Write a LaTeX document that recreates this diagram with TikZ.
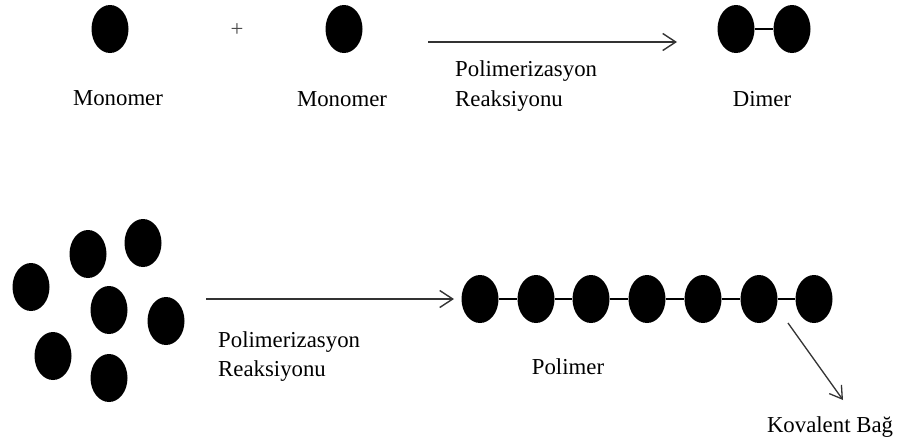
\documentclass[tikz,border=0pt]{standalone}
\usepackage{fontspec}
\setmainfont{Liberation Serif}
\usetikzlibrary{shapes.geometric,arrows.meta}
\begin{document}
\begin{tikzpicture}[x=1pt,y=-1pt,
  ball/.style={ellipse,fill=black,draw=none,minimum width=37pt,minimum height=48pt,inner sep=0pt},
  lbl/.style={font=\fontsize{22.8}{27}\selectfont,inner sep=0pt},
  rxn/.style={draw=black!80,line width=1.4pt,-{Straight Barb[length=13pt,width=17pt,line width=1.4pt]}},
  bond/.style={draw=black,line width=1.2pt}]
\useasboundingbox (0,0) rectangle (905,442);
% top row
\node[ball] (m1) at (110,29) {};
\node[lbl,text=black!70] (plus) at (237,30) {+};
\node[ball] (m2) at (344,29) {};
\node[lbl,anchor=base] (lm1) at (118,105) {Monomer};
\node[lbl,anchor=base] (lm2) at (342,106) {Monomer};
\coordinate (a1s) at (428,42);
\coordinate (a1e) at (677,42);
\draw[rxn] (a1s) -- (a1e);
\node[lbl,anchor=base west] (p1a) at (455,76) {Polimerizasyon};
\node[lbl,anchor=base west] (p1b) at (455,106) {Reaksiyonu};
\node[ball] (d1) at (736,29) {};
\node[ball] (d2) at (792,29) {};
\draw[bond] (d1) -- (d2);
\node[lbl,anchor=base] (ldim) at (762,106) {Dimer};
% bottom cluster
\node[ball] (c1) at (31,287) {};
\node[ball] (c2) at (88,254) {};
\node[ball] (c3) at (143,243) {};
\node[ball] (c4) at (109,310) {};
\node[ball] (c5) at (166,321) {};
\node[ball] (c6) at (53,356) {};
\node[ball] (c7) at (109,378) {};
\coordinate (a2s) at (206,299);
\coordinate (a2e) at (454,299);
\draw[rxn] (a2s) -- (a2e);
\node[lbl,anchor=base west] (p2a) at (218,347) {Polimerizasyon};
\node[lbl,anchor=base west] (p2b) at (218,376) {Reaksiyonu};
% polymer chain
\foreach \i/\x in {1/480,2/536,3/591,4/647,5/703,6/759,7/814}{
  \node[ball] (p\i) at (\x,299) {};
}
\foreach \i [count=\j from 2] in {1,...,6}{
  \draw[bond] (p\i) -- (p\j);
}
\node[lbl,anchor=base] (lpol) at (568,374) {Polimer};
\coordinate (kbs) at (788,323);
\coordinate (kbe) at (843,400);
\draw[draw=black!80,line width=1.3pt,-{Straight Barb[length=12pt,width=15pt,line width=1.3pt]}] (kbs) -- (kbe);
\node[lbl,anchor=base] (lkov) at (830,432) {Kovalent Bağ};
\end{tikzpicture}
\end{document}
